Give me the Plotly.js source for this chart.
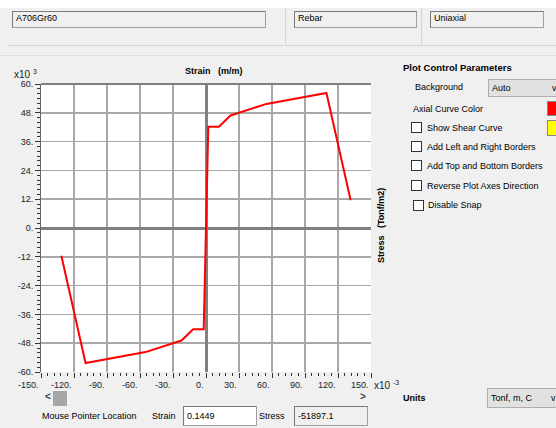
<!DOCTYPE html>
<html><head><meta charset="utf-8">
<script src="https://cdn.plot.ly/plotly-3.0.1.min.js"></script>
<style>
html,body{margin:0;padding:0;width:556px;height:428px;overflow:hidden;background:#f0f0f0;font-family:"Liberation Sans",Arial,sans-serif;font-size:9px;color:#000;}
#chart{position:absolute;left:0;top:0;width:556px;height:428px;}
.ui{position:absolute;white-space:nowrap;line-height:12px;height:12px;}
.box{position:absolute;box-sizing:border-box;border:1px solid #a0a0a0;border-top-color:#7a7a7a;border-left-color:#7a7a7a;background:#f0f0f0;overflow:hidden;white-space:nowrap;line-height:12px;padding-left:3px;}
.dd{position:absolute;box-sizing:border-box;border:1px solid #adadad;background:#e1e1e1;overflow:hidden;white-space:nowrap;padding-left:3px;}
.cb{position:absolute;width:11px;height:11px;box-sizing:border-box;border:1px solid #333;background:#fff;}
.ln{position:absolute;background:#d4d4d4;}
</style></head><body>
<div id="chart"></div>

<!-- top panel -->
<div style="position:absolute;left:0;top:0;width:556px;height:8px;background:#fff;"></div>
<div class="box" style="left:12px;top:11px;width:254px;height:17px;">A706Gr60</div>
<div class="ln" style="left:8px;top:45px;width:276px;height:1px;"></div>
<div class="ln" style="left:285px;top:8px;width:1px;height:38px;"></div>
<div class="box" style="left:294px;top:11px;width:123px;height:17px;">Rebar</div>
<div class="ln" style="left:421px;top:8px;width:1px;height:38px;"></div>
<div class="box" style="left:430px;top:11px;width:114px;height:17px;">Uniaxial</div>
<div class="ln" style="left:286px;top:45px;width:270px;height:1px;"></div>
<div class="ln" style="left:0px;top:55px;width:556px;height:1px;background:#dedede;"></div>

<!-- right panel -->
<div class="ui" style="left:403px;top:62px;font-weight:bold;font-size:9.5px;">Plot Control Parameters</div>
<div class="ui" style="left:415px;top:81px;">Background</div>
<div class="dd" style="left:488px;top:79px;width:75px;height:18px;line-height:16px;">Auto<span style="position:absolute;left:63px;">v</span></div>
<div class="ui" style="left:413px;top:103px;">Axial Curve Color</div>
<div style="position:absolute;left:547px;top:101px;width:12px;height:15px;background:#ff0000;box-sizing:border-box;border:1px solid #888;"></div>
<div class="cb" style="left:411px;top:122px;"></div>
<div class="ui" style="left:427px;top:122px;">Show Shear Curve</div>
<div style="position:absolute;left:547px;top:120px;width:12px;height:16px;background:#ffff00;box-sizing:border-box;border:1px solid #888;"></div>
<div class="cb" style="left:411px;top:141px;"></div>
<div class="ui" style="left:427px;top:141px;">Add Left and Right Borders</div>
<div class="cb" style="left:411px;top:160px;"></div>
<div class="ui" style="left:427px;top:160px;">Add Top and Bottom Borders</div>
<div class="cb" style="left:411px;top:180px;"></div>
<div class="ui" style="left:427px;top:180px;">Reverse Plot Axes Direction</div>
<div class="cb" style="left:413px;top:200px;"></div>
<div class="ui" style="left:428px;top:199px;">Disable Snap</div>

<!-- bottom -->
<div class="ui" style="left:45px;top:391px;font-size:10px;font-weight:bold;color:#444;">&lt;</div>
<div style="position:absolute;left:53px;top:391px;width:14px;height:15px;background:#a6a6a6;"></div>
<div class="ui" style="left:360px;top:391px;font-size:10px;font-weight:bold;color:#444;">&gt;</div>
<div class="ui" style="left:42px;top:410px;">Mouse Pointer Location</div>
<div class="ui" style="left:152px;top:410px;">Strain</div>
<div class="box" style="left:183px;top:406px;width:74px;height:20px;background:#fff;line-height:18px;">0.1449</div>
<div class="ui" style="left:259px;top:410px;">Stress</div>
<div class="box" style="left:294px;top:406px;width:74px;height:20px;line-height:18px;">-51897.1</div>
<div class="ui" style="left:403px;top:392px;font-weight:bold;">Units</div>
<div class="dd" style="left:487px;top:388px;width:75px;height:20px;line-height:18px;">Tonf, m, C<span style="position:absolute;left:63px;">v</span></div>

<script>
// strain in 1e-3 m/m, stress in 1e3 Tonf/m2
const strain = [-131.5, -109.5, -55, -22.3, -11.7, -2.07, 0, 2.07, 11.7, 22.3, 55, 109.5, 131.5];
const stress = [-11.6, -56.25, -51.7, -46.9, -42.18, -42.18, 0, 42.18, 42.18, 46.9, 51.7, 56.25, 11.6];
const xTickVals = [-150, -120, -90, -60, -30, 0, 30, 60, 90, 120, 150];
const xTickLabels = ['-150.', '-120.', '-90.', '-60.', '-30.', '0.', '30.', '60.', '90.', '120.', '150.'];
const yTickVals = [-60, -48, -36, -24, -12, 0, 12, 24, 36, 48, 60];
const yTickLabels = ['-60.', '-48.', '-36.', '-24.', '-12.', '0.', '12.', '24.', '36.', '48.', '60.'];

const trace = {
  x: strain, y: stress, type: 'scatter', mode: 'lines',
  line: {color: '#ff0000', width: 2}, hoverinfo: 'skip'
};

const NB = '\u00a0';
const layout = {
  width: 556, height: 428,
  margin: {l: 41, r: 185, t: 84, b: 56, pad: 0},
  paper_bgcolor: 'rgba(0,0,0,0)', plot_bgcolor: '#ffffff',
  font: {family: 'Liberation Sans, Arial, sans-serif', size: 9, color: '#222'},
  showlegend: false,
  xaxis: {
    range: [-150, 150], tickmode: 'array', tickvals: xTickVals, ticktext: xTickLabels,
    ticks: 'outside', ticklen: 5, tickwidth: 1, tickcolor: '#333',
    ticklabelposition: 'outside left', ticklabelshift: -2, ticklabelstandoff: 4,
    showgrid: true, gridcolor: '#a8a8a8', gridwidth: 1.5,
    zeroline: true, zerolinecolor: '#808080', zerolinewidth: 3,
    showline: false, fixedrange: true,
    minor: {tickmode: 'linear', tick0: 0, dtick: 6, ticks: 'outside', ticklen: 3, tickwidth: 1, tickcolor: '#333', showgrid: false}
  },
  yaxis: {
    range: [-60, 60], tickmode: 'array', tickvals: yTickVals, ticktext: yTickLabels,
    ticks: 'outside', ticklen: 5, tickwidth: 1, tickcolor: '#333',
    ticklabelshift: 1.5,
    showgrid: true, gridcolor: '#a8a8a8', gridwidth: 1.5,
    zeroline: true, zerolinecolor: '#808080', zerolinewidth: 3,
    showline: true, linecolor: '#666', linewidth: 1, fixedrange: true,
    minor: {tickmode: 'linear', tick0: 0, dtick: 2, ticks: 'outside', ticklen: 3, tickwidth: 1, tickcolor: '#333', showgrid: false}
  },
  shapes: [
    {type: 'line', xref: 'paper', yref: 'paper', x0: 0, x1: 1, y0: 1, y1: 1, line: {color: '#808080', width: 2}}
  ],
  annotations: [
    {xref: 'paper', yref: 'paper', x: 0.524, y: 1.045, xanchor: 'center', yanchor: 'middle', showarrow: false,
     text: '<b>Strain' + NB + NB + NB + '(m/m)</b>', font: {size: 9, color: '#000'}},
    {xref: 'paper', yref: 'paper', x: -0.088, y: 1.036, xanchor: 'left', yanchor: 'middle', showarrow: false,
     text: 'x10' + NB + '<sup>3</sup>', font: {size: 10, color: '#222'}},
    {xref: 'paper', yref: 'paper', x: 1.003, y: -0.045, xanchor: 'left', yanchor: 'middle', showarrow: false,
     text: 'x10' + NB + '<sup>-3</sup>', font: {size: 10, color: '#222'}},
    {xref: 'paper', yref: 'paper', x: 1.03, y: 0.51, xanchor: 'center', yanchor: 'middle', showarrow: false,
     textangle: -90, text: '<b>Stress' + NB + NB + NB + '(Tonf/m2)</b>', font: {size: 9, color: '#000'}}
  ]
};

Plotly.newPlot('chart', [trace], layout, {staticPlot: true, displayModeBar: false});
</script>
</body></html>
